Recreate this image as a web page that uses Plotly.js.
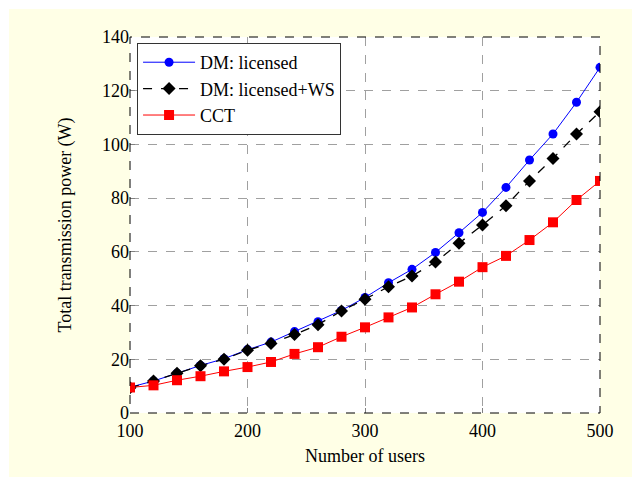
<!DOCTYPE html>
<html>
<head>
<meta charset="utf-8">
<script src="https://cdn.plot.ly/plotly-3.0.1.min.js"></script>
<style>
html,body{margin:0;padding:0;background:#ffffff;width:632px;height:477px;overflow:hidden;}
#chart{position:absolute;left:9px;top:9px;width:623px;height:468px;}
</style>
</head>
<body>
<div id="chart"></div>
<script>
const users = [100,120,140,160,180,200,220,240,260,280,300,320,340,360,380,400,420,440,460,480,500];
const dmLicensed = [9.6,11.9,14.8,17.7,20.2,23.6,26.4,30.3,34.0,38.2,43.0,48.5,53.5,59.8,67.1,74.7,84.0,94.2,103.9,115.7,128.7];
const dmLicensedWS = [9.4,11.9,14.8,17.6,20.0,23.4,25.9,29.2,32.9,38.0,42.4,47.0,51.0,56.2,63.2,70.0,77.2,86.4,94.8,103.9,112.2];
const cct = [9.5,10.3,12.2,13.7,15.5,17.1,19.0,22.0,24.5,28.4,31.9,35.6,39.3,44.2,48.9,54.3,58.5,64.4,71.0,79.3,86.4];
const seriesNames = ['DM: licensed','DM: licensed+WS','CCT'];
const xTicks = [100,200,300,400,500];
const yTicks = [0,20,40,60,80,100,120,140];

const font = {family:'Liberation Serif, Times New Roman, serif', size:18, color:'#000'};

const traces = [
  {x:users, y:dmLicensed, name:seriesNames[0], type:'scatter', mode:'lines+markers',
   line:{color:'#0000ff', width:1}, marker:{symbol:'circle', size:9, color:'#0000ff'}},
  {x:users, y:dmLicensedWS, name:seriesNames[1], type:'scatter', mode:'lines+markers',
   line:{color:'#000000', width:1.3, dash:'dash'}, marker:{symbol:'diamond', size:10, color:'#000000'}},
  {x:users, y:cct, name:seriesNames[2], type:'scatter', mode:'lines+markers',
   line:{color:'#ff0000', width:1}, marker:{symbol:'square', size:10, color:'#ff0000'}}
];

const layout = {
  width:623, height:468,
  margin:{l:121, r:32, t:28, b:64},
  paper_bgcolor:'#ffffe6',
  plot_bgcolor:'#ffffff',
  font:font,
  showlegend:true,
  legend:{x:0.015, y:0.984, xanchor:'left', yanchor:'top', bgcolor:'#ffffff',
          bordercolor:'#333333', borderwidth:1, font:font, tracegroupgap:0, itemwidth:52},
  xaxis:{range:[100,500], tickvals:xTicks, ticktext:xTicks.map(String),
         showgrid:true, gridcolor:'#a0a0a0', griddash:'dash', gridwidth:1,
         zeroline:false, showline:false, ticks:'inside', ticklen:5, tickcolor:'#808080',
         tickfont:font, ticklabelstandoff:5, title:{text:'Number of users', font:font, standoff:9}},
  yaxis:{range:[0,140], tickvals:yTicks, ticktext:yTicks.map(String),
         showgrid:true, gridcolor:'#a0a0a0', griddash:'dash', gridwidth:1,
         zeroline:false, showline:false, ticks:'inside', ticklen:5, tickcolor:'#808080',
         tickfont:font, ticklabelstandoff:0, title:{text:'Total transmission power (W)', font:font, standoff:25}},
  shapes:[{type:'rect', xref:'paper', yref:'paper', x0:0, x1:1, y0:0, y1:1,
           line:{color:'#000000', width:1, dash:'dash'}, fillcolor:'rgba(0,0,0,0)', layer:'above'}]
};

Plotly.newPlot('chart', traces, layout, {displayModeBar:false, staticPlot:true});
</script>
</body>
</html>
